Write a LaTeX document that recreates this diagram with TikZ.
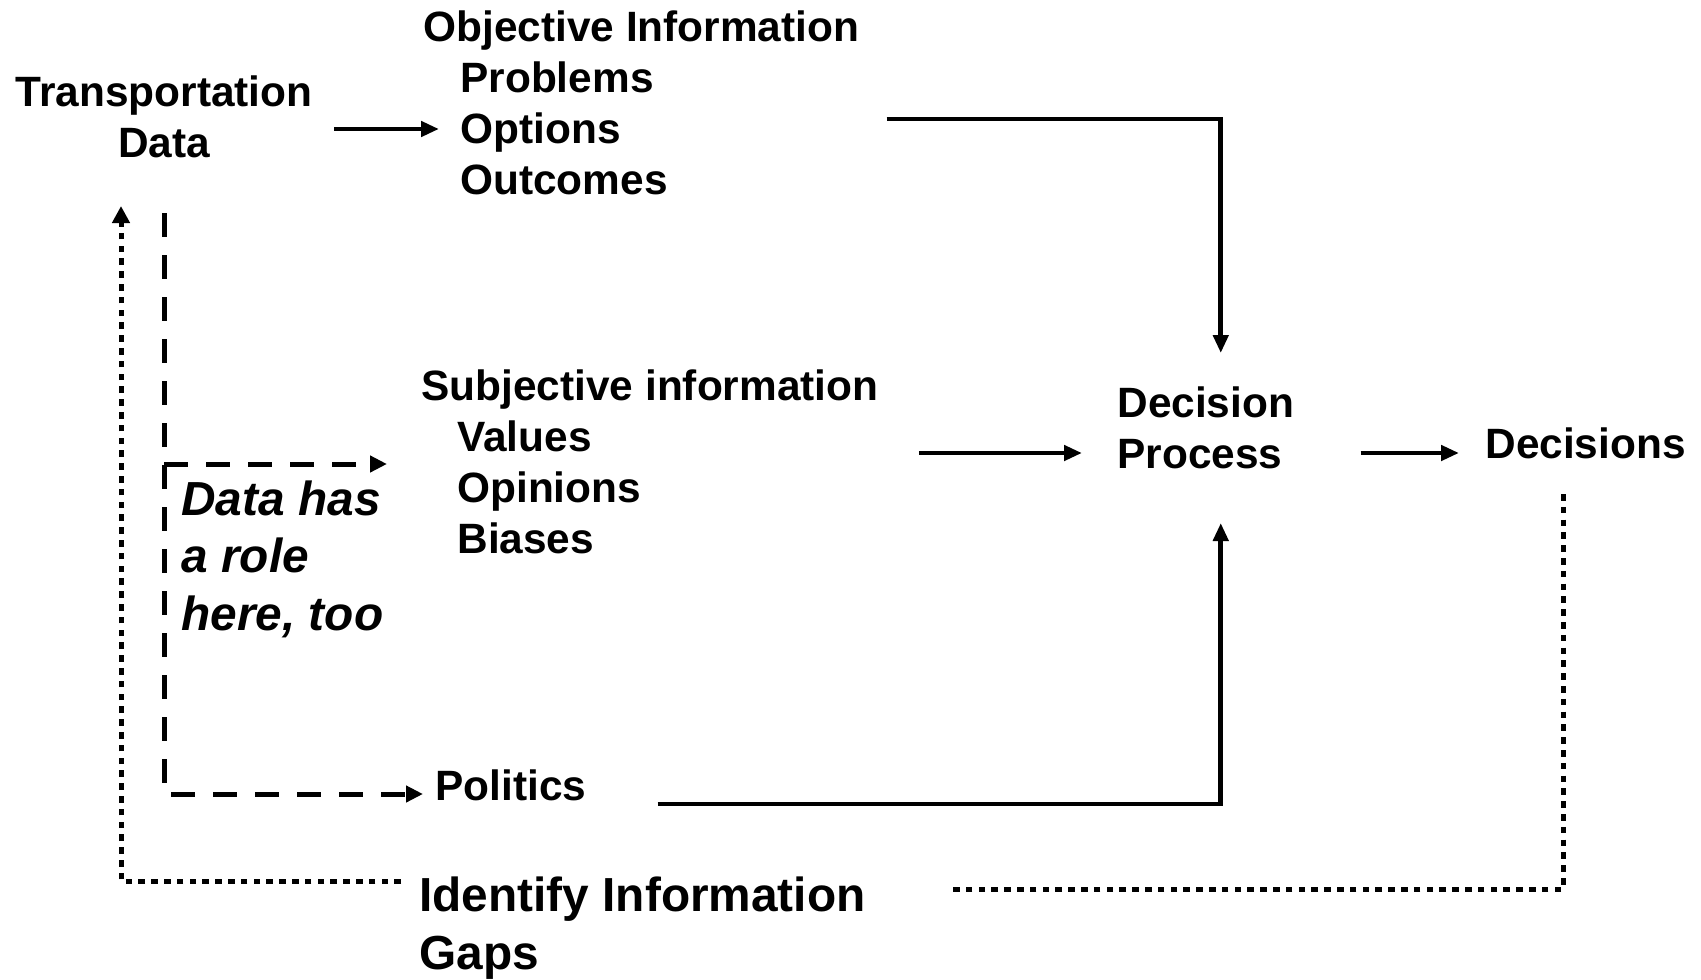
\documentclass[tikz,border=0pt]{standalone}
\usepackage{fontspec}
\setmainfont{Liberation Sans}
\usetikzlibrary{arrows.meta,positioning,calc}

\tikzset{
  txt/.style={inner sep=0pt, anchor=base west, align=left,
    font=\bfseries\fontsize{21.2}{25.5}\selectfont},
  bigtxt/.style={txt, font=\bfseries\fontsize{23.9}{28.75}\selectfont},
  notetxt/.style={txt, font=\bfseries\itshape\fontsize{23.9}{28.75}\selectfont},
  flow/.style={line width=2.3pt, -{Triangle[length=9pt,width=7.5pt]}},
  feed/.style={line width=2.5pt, dash pattern=on 12pt off 9pt,
    -{Triangle[length=8.5pt,width=8pt]}},
  gapline/.style={line width=2.5pt, dash pattern=on 3.3pt off 3.1pt},
}

\begin{document}
\begin{tikzpicture}[x=0.5pt,y=-0.5pt]
  \useasboundingbox (0,0) rectangle (1701,979);

  % text blocks (placed by the baseline of their last line)
  \node[txt, anchor=base, align=center] (tdata) at (164,157) {Transportation\\Data};
  \node[txt] (objinfo) at (423,194) {Objective Information\\\hspace*{18.5pt}Problems\\\hspace*{18.5pt}Options\\\hspace*{18.5pt}Outcomes};
  \node[txt] (subjinfo) at (421,553) {Subjective information\\\hspace*{18pt}Values\\\hspace*{18pt}Opinions\\\hspace*{18pt}Biases};
  \node[txt] (decproc) at (1117,468) {Decision\\Process};
  \node[txt] (decisions) at (1485,458) {Decisions};
  \node[txt] (politics) at (435,800) {Politics};
  \node[bigtxt] (gaps) at (419,969) {Identify Information\\Gaps};
  \node[notetxt] (role) at (181,630) {Data has\\a role\\here, too};

  % arrow ends
  \coordinate (objtip) at ([shift={(16,-65)}]objinfo.base west);
  \coordinate (subjtip) at ([shift={(-34,-89)}]subjinfo.base west);
  \coordinate (poltip) at ([shift={(-12,-6)}]politics.base west);

  % solid flow
  \draw[flow] ([shift={(170,-28)}]tdata.base) -- (objtip);
  \draw[flow] ([shift={(27,-75)}]objinfo.base east) -| ([shift={(15,-115)}]decproc.base);
  \draw[flow] ([shift={(40,-100)}]subjinfo.base east) -- ([shift={(-35,-15)}]decproc.base west);
  \draw[flow] ([shift={(66,-15)}]decproc.base east) -- ([shift={(-26,-5)}]decisions.base west);
  \draw[flow] ([shift={(71,4)}]politics.base east) -| ([shift={(15,55)}]decproc.base);

  % data feeds (dashed)
  \draw[feed] ([shift={(0,56)}]tdata.base) |- (poltip);
  \draw[feed] (tdata.base |- subjtip) -- (subjtip);

  % feedback loop (dotted)
  \draw[gapline] ([shift={(78,36)}]decisions.base west) |- ([shift={(87,-80)}]gaps.base east);
  \draw[gapline, -{Triangle[length=8.5pt,width=8.5pt]}] ([shift={(-18,-88)}]gaps.base west) -| ([shift={(-43,49)}]tdata.base);
\end{tikzpicture}
\end{document}
